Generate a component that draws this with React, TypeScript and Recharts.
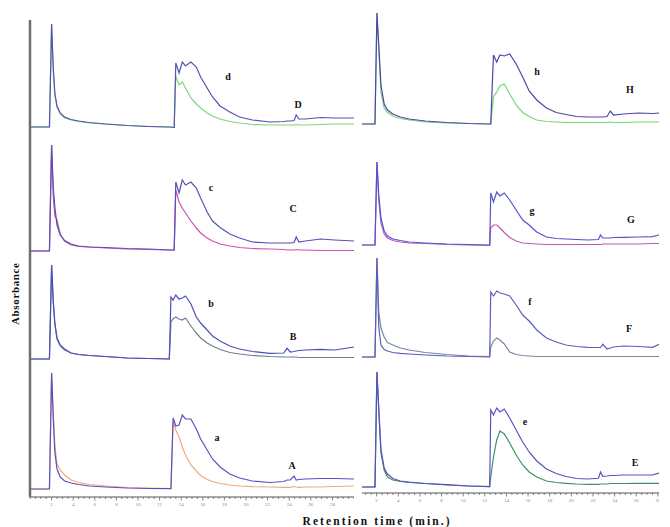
import React from 'react';
import { LineChart, Line, XAxis, YAxis } from 'recharts';

// Retention times (min) sampled for the left and right columns
const TIME_LEFT = [0, 1.8, 2.0, 2.15, 2.3, 2.5, 2.8, 3.2, 3.8, 4.5, 5.5, 7, 9, 11, 12.9, 13.05, 13.25, 13.35, 13.5, 13.8, 14.1, 14.4, 14.9, 15.4, 15.8, 16.4, 16.9, 17.6, 18.5, 19.4, 20.6, 22.2, 23.5, 23.8, 24.1, 24.45, 24.65, 24.9, 25.5, 26.9, 28.2, 30];
const TIME_RIGHT = [0.65, 1.85, 2.03, 2.2, 2.4, 2.7, 3.0, 3.5, 4.2, 5, 6.5, 8.5, 10.5, 12.45, 12.55, 12.8, 13.1, 13.4, 13.8, 14.3, 14.9, 15.5, 16.1, 16.8, 17.7, 18.6, 19.5, 20.5, 21.5, 22.5, 22.7, 22.9, 23.3, 23.6, 23.9, 24.8, 26.2, 27.5, 28.1];

// Panel d / D
const D_BLUE = [8, 8, 111, 68, 42, 29, 22, 18, 15.5, 14, 12.5, 11, 9.5, 8.5, 8, 8, 7.5, 7.5, 72, 62, 73, 69, 73, 68, 58, 47, 38, 29, 23, 18, 15, 13, 13.5, 14, 14, 14.5, 20, 16, 16, 17.5, 17, 17];
const D_GREEN = [8, 8, 111, 65, 40, 28, 21, 17, 15, 13.5, 12, 11, 9.5, 8.5, 8, 8, 7.5, 7.5, 59, 50, 53, 47, 37, 31, 27, 22, 19, 16, 13.5, 12, 10.5, 10, 10, 10, 10, 10, 10.5, 10, 10, 10.5, 11, 11];
// Panel c / C
const C_BLUE = [5, 5, 111, 70, 49, 31, 21, 15.5, 12, 10, 9, 8.5, 7.5, 7, 6, 6, 6, 6, 74, 63, 76, 71, 74, 68, 58, 44, 35, 28.5, 22, 18, 14, 13, 13, 13, 13, 13.5, 19, 14, 15, 17, 16, 15];
const C_MAGENTA = [5, 5, 111, 60, 40, 36, 22, 15, 11, 9.5, 9, 8, 7, 6.5, 6, 6, 6, 6, 66, 54, 48, 43, 35, 28, 23, 18, 15, 12, 10, 8.5, 7.5, 7, 6.5, 6, 6, 6, 6.5, 6, 6, 5.5, 5.5, 5.5];
// Panel b / B
const B_BLUE = [5, 5, 99, 64, 41, 26, 19, 15, 11, 9.5, 8.5, 7.5, 6, 5.5, 5, 67, 64, 66, 69, 65, 66, 68, 60, 47, 41, 34, 28, 23, 18, 15, 12.5, 10.7, 11, 15.7, 12, 12.5, 13, 13.5, 14, 14.7, 14, 17];
const B_GRAY = [5, 5, 99, 62, 40, 25, 18, 14, 11, 9.5, 8.5, 7.5, 6, 5.5, 5, 42, 45, 46, 47, 45, 44, 46, 38, 31, 26, 21, 18, 14.5, 11.5, 10, 8.5, 7.5, 7, 7, 7, 7, 7, 6.5, 6.5, 6.5, 6.5, 6.5];
// Panel a / A
const A_BLUE = [8, 8, 124, 80, 45, 28, 20, 16, 14, 12.5, 11, 10, 9, 8.5, 8.3, 8.3, 79, 76, 71, 72, 82, 78, 78, 68, 58, 47, 38, 30, 23, 19, 16, 14.5, 15.5, 17, 17, 21, 17, 17.5, 18, 18.5, 18.5, 18];
const A_ORANGE = [8, 8, 124, 85, 52, 33, 27, 22, 17, 14.5, 12.5, 11, 9.5, 9, 8.5, 8.5, 75, 72, 67, 60, 50, 42, 32, 26, 21.5, 17.5, 15.5, 13.5, 12, 11, 10.3, 10, 9.7, 9.7, 9.7, 10.5, 10, 9.7, 10, 10, 10.5, 11];
// Panel h / H
const H_BLUE = [6, 6, 117, 85, 45, 26, 20, 16, 13, 11, 9, 7.5, 6.5, 6, 6, 75, 68, 75, 74, 76, 66, 53, 39, 30, 22, 17.5, 15.5, 13.5, 13, 13, 13, 13, 13.5, 19, 15, 16, 17, 16.5, 17];
const H_GREEN = [6, 6, 117, 80, 38, 22, 17.5, 14, 11.5, 10, 8, 7, 6.5, 6, 6, 33, 38, 44, 46, 36, 25, 17.5, 13.5, 10, 8.5, 8, 7.5, 7.5, 7.5, 7.5, 7.5, 7.5, 7.5, 8, 7.5, 7.5, 8, 8, 8];
// Panel g / G
const G_BLUE = [5, 5, 88, 55, 32, 19, 14, 11, 9.5, 8, 7, 6, 5.5, 5, 57, 48, 58, 54, 57, 50, 40, 30, 25, 18, 13, 11.5, 11, 10.5, 10, 10.5, 15, 12, 12, 12, 12.5, 12.7, 13, 13.3, 15];
const G_MAGENTA = [5, 5, 88, 50, 27, 16, 12, 9.5, 8, 7, 6.5, 5.5, 5, 4.5, 22, 25, 25, 22, 17.5, 12.5, 9, 7, 6.5, 6, 5.5, 5.5, 5.5, 5.5, 5.5, 5.5, 5.5, 6, 6, 6, 6, 6, 6, 6.5, 6.5];
// Panel f / F
const F_BLUE = [5, 5, 104, 35, 17, 12.5, 11, 9.5, 8.7, 8, 7, 6, 5.5, 5, 70, 66, 71, 69, 68, 66, 57, 47, 41, 32, 24, 20, 17, 15.5, 14.7, 14.5, 14.5, 17.7, 13, 14, 15, 16, 15.5, 14.7, 17.7];
const F_GRAY = [5, 5, 104, 50, 34, 25, 19.5, 17, 14, 12, 9.5, 7.5, 6, 5.5, 15, 21, 24, 22, 18, 10, 7.5, 6.5, 6, 5.5, 5.5, 5.5, 5.5, 5.5, 5.5, 5.5, 5.5, 5.5, 5.5, 5.5, 5.5, 5.5, 5.5, 5.5, 5.5];
// Panel e / E
const E_BLUE = [6, 6, 121, 85, 44, 25, 19, 14.5, 12, 11, 9.5, 8.3, 7, 6.3, 83, 78, 85, 81, 84, 75, 63, 51, 41, 32, 24, 19.5, 16.5, 14.5, 14, 14.7, 21, 16.7, 17, 17.5, 17.5, 18, 18, 18, 20];
const E_GREEN = [6, 6, 121, 82, 40, 23, 16, 13, 11.5, 10.5, 9.5, 8, 7, 6.3, 16, 36, 53, 62, 59, 50, 38, 28, 21, 16, 12, 10.5, 9.7, 9, 8.7, 8.7, 9, 9, 9, 9.5, 9.5, 9.5, 9.7, 9.7, 9.7];

const MAJOR_TICKS = [2, 4, 6, 8, 10, 12, 14, 16, 18, 20, 22, 24, 26, 28];
const LEFT_MINOR: number[] = [];
for (let v = 0; v <= 30.001; v += 0.5) LEFT_MINOR.push(Math.round(v * 10) / 10);
const RIGHT_MINOR: number[] = [];
for (let v = 1; v <= 28.001; v += 0.5) RIGHT_MINOR.push(Math.round(v * 10) / 10);

const PANEL_LABELS = [
  { text: 'd', x: 228, y: 76 }, { text: 'D', x: 298, y: 104 },
  { text: 'c', x: 211, y: 187 }, { text: 'C', x: 293, y: 208 },
  { text: 'b', x: 211, y: 303 }, { text: 'B', x: 293, y: 336 },
  { text: 'a', x: 217, y: 437 }, { text: 'A', x: 292, y: 465 },
  { text: 'h', x: 537, y: 71 }, { text: 'H', x: 630, y: 89 },
  { text: 'g', x: 532, y: 210 }, { text: 'G', x: 631, y: 219 },
  { text: 'f', x: 530, y: 301 }, { text: 'F', x: 629, y: 328 },
  { text: 'e', x: 525, y: 421 }, { text: 'E', x: 635, y: 462 },
];

const SERIF = '"Liberation Serif", "DejaVu Serif", serif';

const AxisTick = (props: any) => {
  const { x, y, payload } = props;
  const v = payload.value as number;
  const major = MAJOR_TICKS.indexOf(v) >= 0;
  return (
    <g>
      <line x1={x} x2={x} y1={y} y2={y + (major ? 3.5 : 2)} stroke="#666" strokeWidth={0.8} />
      {major ? (
        <text x={x} y={y + 9} fontSize={5} textAnchor="middle" fill="#888" fontFamily={SERIF}>
          {v}
        </text>
      ) : null}
    </g>
  );
};

type PanelProps = {
  left: number;
  top: number;
  width: number;
  height: number;
  time: number[];
  main: number[];
  second: number[];
  mainColor: string;
  secondColor: string;
  xDomain: [number, number];
  yDomain: [number, number];
  showY?: boolean;
  showX?: boolean;
  ticks?: number[];
};

function Panel(p: PanelProps) {
  const data = p.time.map((t, i) => ({ t, main: p.main[i], second: p.second[i] }));
  return (
    <div style={{ position: 'absolute', left: p.left, top: p.top }}>
      <LineChart width={p.width} height={p.height} data={data} margin={{ top: 0, right: 0, bottom: 0, left: 0 }}>
        <XAxis
          dataKey="t"
          type="number"
          domain={p.xDomain}
          allowDataOverflow
          hide={!p.showX}
          ticks={p.ticks}
          interval={0}
          tick={<AxisTick />}
          tickLine={false}
          tickSize={0}
          tickMargin={0}
          height={14}
          axisLine={{ stroke: '#555', strokeWidth: 1 }}
        />
        {p.showY ? (
          <YAxis
            type="number"
            domain={p.yDomain}
            allowDataOverflow
            width={2}
            tick={false}
            tickLine={false}
            axisLine={{ stroke: '#6e6e6e', strokeWidth: 2.5 }}
          />
        ) : (
          <YAxis type="number" domain={p.yDomain} allowDataOverflow hide />
        )}
        <Line dataKey="second" type="linear" stroke={p.secondColor} strokeWidth={1.2} dot={false} isAnimationActive={false} />
        <Line dataKey="main" type="linear" stroke={p.mainColor} strokeWidth={1.2} dot={false} isAnimationActive={false} />
      </LineChart>
    </div>
  );
}

export default function App() {
  const LW = 326;
  const RW = 297;
  const LX: [number, number] = [0, 30];
  const RX: [number, number] = [0.65, 28.1];
  return (
    <div style={{ position: 'absolute', left: 0, top: 0, width: 670, height: 527, background: '#fff', overflow: 'hidden' }}>
      {/* left column */}
      <Panel left={28} top={20} width={LW} height={117} time={TIME_LEFT} main={D_BLUE} second={D_GREEN} mainColor="#5a50b0" secondColor="#7bd87b" xDomain={LX} yDomain={[-2, 115]} showY />
      <Panel left={28} top={137} width={LW} height={119} time={TIME_LEFT} main={C_BLUE} second={C_MAGENTA} mainColor="#5a50b0" secondColor="#cc52ae" xDomain={LX} yDomain={[0, 119]} showY />
      <Panel left={28} top={256} width={LW} height={110} time={TIME_LEFT} main={B_BLUE} second={B_GRAY} mainColor="#4a50b8" secondColor="#707c96" xDomain={LX} yDomain={[-2, 108]} showY />
      <Panel left={28} top={366} width={LW} height={145} time={TIME_LEFT} main={A_BLUE} second={A_ORANGE} mainColor="#5b4fc0" secondColor="#f2a97a" xDomain={LX} yDomain={[0, 131]} showY showX ticks={LEFT_MINOR} />
      {/* right column */}
      <Panel left={362} top={10} width={RW} height={120} time={TIME_RIGHT} main={H_BLUE} second={H_GREEN} mainColor="#4e46a6" secondColor="#74d874" xDomain={RX} yDomain={[0, 120]} />
      <Panel left={362} top={140} width={RW} height={110} time={TIME_RIGHT} main={G_BLUE} second={G_MAGENTA} mainColor="#5454c8" secondColor="#bb5cb2" xDomain={RX} yDomain={[0, 110]} />
      <Panel left={362} top={252} width={RW} height={110} time={TIME_RIGHT} main={F_BLUE} second={F_GRAY} mainColor="#5b5fb8" secondColor="#7a85a0" xDomain={RX} yDomain={[0, 110]} />
      <Panel left={362} top={366} width={RW} height={141} time={TIME_RIGHT} main={E_BLUE} second={E_GREEN} mainColor="#5a50c0" secondColor="#3f8f6a" xDomain={RX} yDomain={[0, 127]} showX ticks={RIGHT_MINOR} />
      <svg width={670} height={527} style={{ position: 'absolute', left: 0, top: 0, pointerEvents: 'none' }}>
        {PANEL_LABELS.map((l) => (
          <text key={l.text} x={l.x} y={l.y} fontSize={10} fontWeight="bold" fontFamily={SERIF} textAnchor="middle" dominantBaseline="central" fill="#111">
            {l.text}
          </text>
        ))}
        <text x={15} y={294} fontSize={11} fontWeight="bold" fontFamily={SERIF} textAnchor="middle" dominantBaseline="central" transform="rotate(-90 15 294)" fill="#111" textLength={62} lengthAdjust="spacing">
          Absorbance
        </text>
        <text x={376} y={521} fontSize={11.5} fontWeight="bold" fontFamily={SERIF} textAnchor="middle" dominantBaseline="central" fill="#111" textLength={147} lengthAdjust="spacing">
          Retention time (min.)
        </text>
      </svg>
    </div>
  );
}
